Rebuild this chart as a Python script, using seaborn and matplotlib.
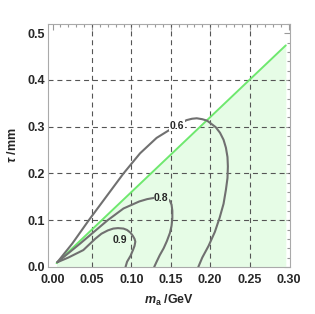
import matplotlib
matplotlib.use('Agg')
import matplotlib.pyplot as plt
from matplotlib.ticker import MultipleLocator, FormatStrFormatter
import seaborn as sns

# boundary line tau = c * m_a (green) and region below it
line_ma = [0.005, 0.296]
line_tau = [0.008, 0.474]

# contour curves (m_a in GeV, tau in mm)
c06_ma = [0.006, 0.025, 0.046, 0.068, 0.09, 0.111, 0.132, 0.155, 0.17, 0.177,
          0.183, 0.19, 0.196, 0.2, 0.207, 0.2125, 0.217, 0.22, 0.222, 0.2225,
          0.222, 0.22, 0.217, 0.212, 0.206, 0.198, 0.19, 0.185]
c06_tau = [0.01, 0.05, 0.1, 0.15, 0.2, 0.243, 0.276, 0.3, 0.314, 0.317,
           0.318, 0.316, 0.313, 0.308, 0.299, 0.287, 0.272, 0.255, 0.235, 0.215,
           0.19, 0.165, 0.135, 0.105, 0.075, 0.045, 0.02, 0.0]

c08_ma = [0.006, 0.035, 0.07, 0.09, 0.11, 0.12, 0.13, 0.138, 0.145, 0.149,
          0.151, 0.152, 0.152, 0.151, 0.149, 0.145, 0.141, 0.136, 0.132, 0.129]
c08_tau = [0.01, 0.05, 0.1, 0.125, 0.14, 0.145, 0.148, 0.149, 0.147, 0.141,
           0.133, 0.12, 0.104, 0.088, 0.073, 0.055, 0.04, 0.025, 0.011, 0.0]

c09_ma = [0.006, 0.02, 0.039, 0.054, 0.062, 0.07, 0.077, 0.083, 0.09, 0.0945,
          0.099, 0.102, 0.104, 0.105, 0.104, 0.102, 0.099, 0.0945, 0.0926]
c09_tau = [0.01, 0.02, 0.036, 0.06, 0.071, 0.078, 0.082, 0.083, 0.082, 0.079,
           0.073, 0.066, 0.06, 0.054, 0.045, 0.036, 0.024, 0.011, 0.0]

contours = [(c06_ma, c06_tau), (c08_ma, c08_tau), (c09_ma, c09_tau)]
label_text = ['0.6', '0.8', '0.9']
label_ma = [0.158, 0.138, 0.0857]
label_tau = [0.302, 0.148, 0.058]
label_bg = ['white', '#e6fce6', '#e6fce6']

xticks = [0.00, 0.05, 0.10, 0.15, 0.20, 0.25, 0.30]
yticks = [0.0, 0.1, 0.2, 0.3, 0.4, 0.5]
xgrid = [0.05, 0.10, 0.15, 0.20, 0.25]
ygrid = [0.1, 0.2, 0.3, 0.4]

sns.set_style('white')
plt.rcParams['font.family'] = ['Liberation Sans', 'DejaVu Sans']
plt.rcParams['mathtext.fontset'] = 'custom'
plt.rcParams['mathtext.rm'] = 'Liberation Sans:bold'
plt.rcParams['mathtext.it'] = 'Liberation Sans:italic:bold'
plt.rcParams['mathtext.bf'] = 'Liberation Sans:bold'

fig, ax = plt.subplots(figsize=(3.15, 3.14), dpi=100)
fig.subplots_adjust(left=0.152, right=0.921, bottom=0.150, top=0.924)

ax.fill_between(line_ma, 0, line_tau, color='#e6fce6', lw=0, zorder=1)

for x in xgrid:
    ax.axvline(x, color='#555555', lw=0.8, ls=(0, (4.5, 3.5)), zorder=2)
for y in ygrid:
    ax.axhline(y, color='#555555', lw=0.8, ls=(0, (4.5, 3.5)), zorder=2)

sns.lineplot(x=line_ma, y=line_tau, color='#6ee86e', lw=1.4, ax=ax, zorder=3)

for cm, ct in contours:
    sns.lineplot(x=cm, y=ct, sort=False, estimator=None, color='#707070',
                 lw=1.5, ax=ax, zorder=4)

for t, lx, ly, bg in zip(label_text, label_ma, label_tau, label_bg):
    ax.text(lx, ly, t, fontsize=7.5, fontweight='bold', ha='center', va='center',
            zorder=5, bbox=dict(facecolor=bg, edgecolor='none', pad=0.3))

ax.set_xlim(-0.006, 0.3015)
ax.set_ylim(0, 0.52)
ax.set_xticks(xticks)
ax.set_yticks(yticks)
ax.xaxis.set_major_formatter(FormatStrFormatter('%.2f'))
ax.yaxis.set_major_formatter(FormatStrFormatter('%.1f'))
ax.xaxis.set_minor_locator(MultipleLocator(0.01))
ax.yaxis.set_minor_locator(MultipleLocator(0.02))
ax.tick_params(which='both', direction='in', top=True, right=True,
               color='#999999', width=0.8)
ax.tick_params(which='major', length=4, labelsize=9)
ax.tick_params(axis='x', which='major', pad=5)
ax.tick_params(axis='y', which='major', pad=2)
ax.tick_params(which='minor', length=2)
for lab in ax.get_xticklabels() + ax.get_yticklabels():
    lab.set_fontweight('bold')
for sp in ax.spines.values():
    sp.set_color('#aaaaaa')
    sp.set_linewidth(0.8)

ax.set_xlabel(r'$m_\mathrm{a}$ /GeV', fontsize=9, fontweight='bold', labelpad=5)
ax.set_ylabel(r'$\tau$ /mm', fontsize=9, fontweight='bold', labelpad=6)

plt.savefig('out.png', dpi=100)
